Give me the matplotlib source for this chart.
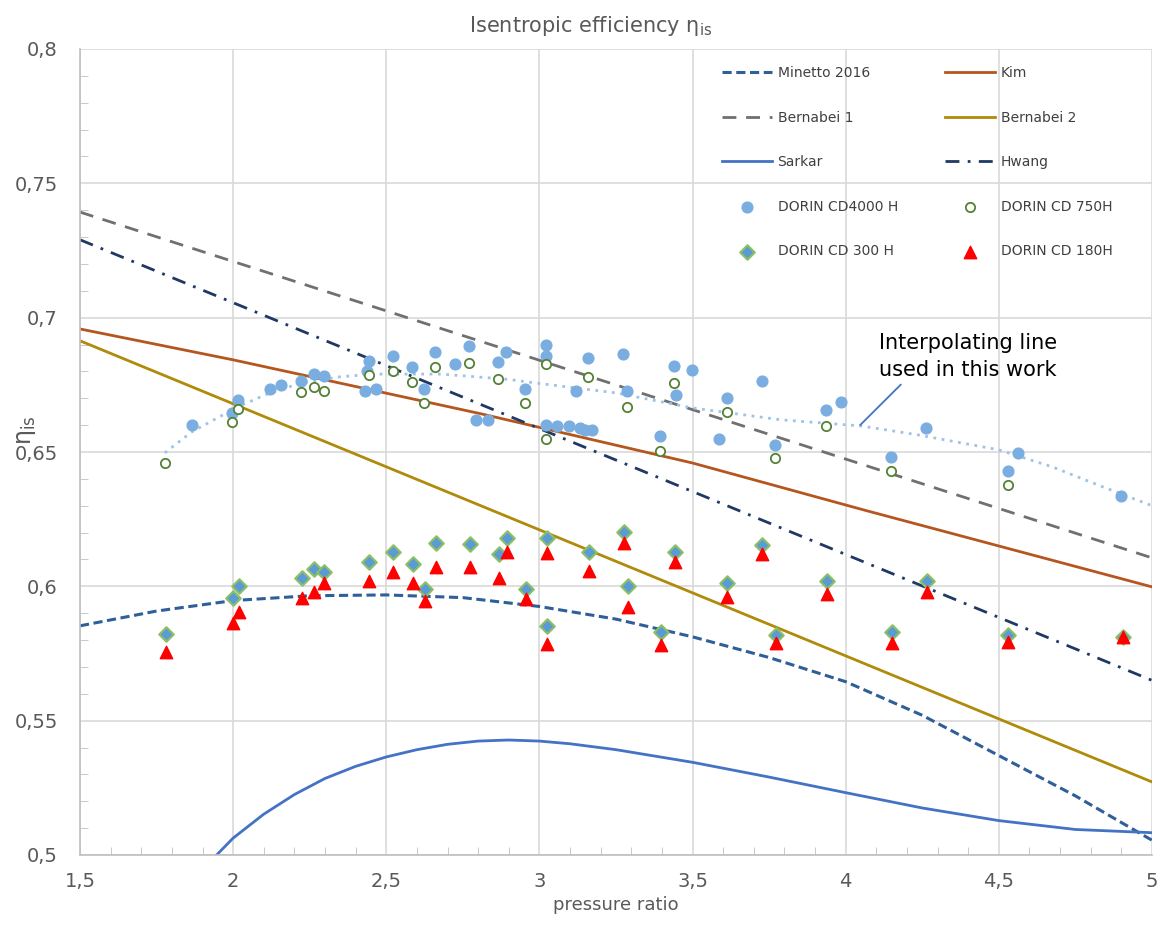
import matplotlib
matplotlib.use("Agg")
import matplotlib.pyplot as plt
from matplotlib.ticker import MultipleLocator, FuncFormatter

# correlations from literature
x_minetto = [1.5, 1.75, 2.0, 2.25, 2.5, 2.75, 3.0, 3.25, 3.5, 3.75, 4.0, 4.25, 4.5, 4.75, 5.0]
y_minetto = [0.5853, 0.5908, 0.5947, 0.5965, 0.5968, 0.5958, 0.5925, 0.5878, 0.5812, 0.5735,
             0.5645, 0.552, 0.537, 0.522, 0.5055]

x_kim = [1.5, 2.0, 2.81, 3.5, 4.06, 5.0]
y_kim = [0.6958, 0.6843, 0.6642, 0.6459, 0.6284, 0.5998]

x_bern1 = [1.5, 5.0]
y_bern1 = [0.7393, 0.6106]

x_bern2 = [1.5, 5.0]
y_bern2 = [0.6914, 0.5272]

x_sarkar = [1.946, 2.0, 2.1, 2.2, 2.3, 2.4, 2.5, 2.6, 2.7, 2.8, 2.9, 3.0, 3.1, 3.25, 3.5,
            3.75, 4.0, 4.25, 4.5, 4.75, 5.0]
y_sarkar = [0.5, 0.5063, 0.5152, 0.5225, 0.5285, 0.533, 0.5365, 0.5392, 0.5412, 0.5424,
            0.5428, 0.5424, 0.5414, 0.5392, 0.5345, 0.529, 0.5232, 0.5175, 0.5128, 0.5095,
            0.5083]

x_hwang = [1.5, 5.0]
y_hwang = [0.729, 0.565]

x_interp = [1.777, 1.865, 2.015, 2.12, 2.223, 2.35, 2.46, 2.57, 2.68, 2.79, 2.9, 3.0, 3.25,
            3.5, 3.787, 4.05, 4.24, 4.5, 4.676, 4.84, 5.0]
y_interp = [0.6497, 0.6575, 0.6668, 0.672, 0.6757, 0.678, 0.679, 0.679, 0.679, 0.678, 0.677,
            0.6755, 0.672, 0.6664, 0.662, 0.6597, 0.6563, 0.6508, 0.6444, 0.637, 0.630]

# measured compressors
x_cd4000 = [1.865, 2.015, 1.995, 2.119, 2.155, 2.223, 2.265, 2.298, 2.445, 2.438, 2.432, 2.467,
            2.523, 2.585, 2.66, 2.624, 2.725, 2.77, 2.865, 2.891, 2.793, 2.832, 2.953, 3.021,
            3.021, 3.021, 3.057, 3.096, 3.132, 3.148, 3.171, 3.119, 3.158, 3.272, 3.285, 3.393,
            3.438, 3.445, 3.497, 3.585, 3.614, 3.728, 3.77, 3.937, 3.985, 4.262, 4.148, 4.529,
            4.562, 4.90]
y_cd4000 = [0.660, 0.6694, 0.6645, 0.6735, 0.675, 0.6765, 0.679, 0.6783, 0.6839, 0.680, 0.6727,
            0.6735, 0.6857, 0.6817, 0.6872, 0.6735, 0.6828, 0.6895, 0.6835, 0.6872, 0.662, 0.662,
            0.6735, 0.690, 0.6857, 0.660, 0.6597, 0.6597, 0.659, 0.6582, 0.6582, 0.6727, 0.685,
            0.6865, 0.6727, 0.656, 0.682, 0.6712, 0.6805, 0.655, 0.670, 0.6765, 0.6526, 0.6657,
            0.6686, 0.659, 0.6482, 0.643, 0.6497, 0.6336]

x_cd750 = [1.777, 1.995, 2.015, 2.223, 2.265, 2.298, 2.445, 2.523, 2.585, 2.624, 2.66, 2.77,
           2.865, 2.953, 3.021, 3.021, 3.158, 3.285, 3.393, 3.438, 3.614, 3.77, 3.937, 4.148,
           4.529]
y_cd750 = [0.6459, 0.6612, 0.666, 0.6723, 0.6742, 0.6727, 0.6787, 0.6802, 0.676, 0.6683, 0.6817,
           0.6831, 0.6772, 0.6683, 0.6828, 0.6548, 0.678, 0.6668, 0.6504, 0.6757, 0.665, 0.6478,
           0.6597, 0.643, 0.6377]

x_cd300 = [1.78, 2.0, 2.018, 2.226, 2.265, 2.298, 2.445, 2.523, 2.588, 2.627, 2.663, 2.774,
           2.868, 2.894, 2.956, 3.024, 3.024, 3.161, 3.275, 3.288, 3.396, 3.441, 3.614, 3.728,
           3.774, 3.94, 4.265, 4.152, 4.529, 4.904]
y_cd300 = [0.5823, 0.5957, 0.6001, 0.6031, 0.6065, 0.6054, 0.6091, 0.6128, 0.6083, 0.599, 0.6162,
           0.6158, 0.612, 0.618, 0.599, 0.618, 0.5853, 0.6128, 0.6203, 0.6001, 0.583, 0.6128,
           0.6013, 0.6154, 0.5819, 0.602, 0.602, 0.583, 0.5819, 0.581]

x_cd180 = [1.78, 2.0, 2.018, 2.226, 2.265, 2.298, 2.445, 2.523, 2.588, 2.627, 2.663, 2.774,
           2.868, 2.894, 2.956, 3.024, 3.024, 3.161, 3.275, 3.288, 3.396, 3.441, 3.614, 3.728,
           3.774, 3.94, 4.265, 4.152, 4.529, 4.904]
y_cd180 = [0.5756, 0.5864, 0.5905, 0.5957, 0.598, 0.6013, 0.602, 0.6054, 0.6013, 0.5946, 0.6072,
           0.6072, 0.6031, 0.6128, 0.5953, 0.6124, 0.5786, 0.6057, 0.6162, 0.5923, 0.5782, 0.6091,
           0.596, 0.612, 0.5789, 0.5972, 0.598, 0.5789, 0.5793, 0.581]

grey = "#595959"

fig = plt.figure(figsize=(11.62, 9.27), dpi=100)
ax = fig.add_axes([80 / 1162, 1 - 855 / 927, (1152 - 80) / 1162, (855 - 49) / 927])

l_min, = ax.plot(x_minetto, y_minetto, color="#2f5f98", lw=2.2, dashes=(3, 1.5), label="Minetto 2016")
l_kim, = ax.plot(x_kim, y_kim, color="#b5561f", lw=2.0, label="Kim")
l_b1, = ax.plot(x_bern1, y_bern1, color="#707070", lw=2.0, dashes=(5, 3.5), label="Bernabei 1")
l_b2, = ax.plot(x_bern2, y_bern2, color="#b08b0a", lw=2.0, label="Bernabei 2")
l_sar, = ax.plot(x_sarkar, y_sarkar, color="#4472c4", lw=2.0, label="Sarkar")
l_hw, = ax.plot(x_hwang, y_hwang, color="#1f3864", lw=2.0, dashes=(5, 3, 1, 3), label="Hwang")
ax.plot(x_interp, y_interp, color="#9dc3e6", lw=2.0, dashes=(1, 2))

s1 = ax.scatter(x_cd4000, y_cd4000, s=60, color="#7aaee0", zorder=3, label="DORIN CD4000 H")
s2 = ax.scatter(x_cd750, y_cd750, s=45, facecolor="white", edgecolor="#548235", lw=1.3,
                zorder=3, label="DORIN CD 750H")
s3 = ax.scatter(x_cd300, y_cd300, s=55, marker="D", facecolor="#5b9bd5", edgecolor="#8cc063",
                lw=1.5, zorder=3, label="DORIN CD 300 H")
s4 = ax.scatter(x_cd180, y_cd180, s=80, marker="^", color="#ff0000", zorder=4, label="DORIN CD 180H")

ax.set_xlim(1.5, 5)
ax.set_ylim(0.5, 0.8)
ax.xaxis.set_major_locator(MultipleLocator(0.5))
ax.xaxis.set_minor_locator(MultipleLocator(0.1))
ax.yaxis.set_major_locator(MultipleLocator(0.05))
ax.yaxis.set_minor_locator(MultipleLocator(0.01))
fmt = FuncFormatter(lambda v, p: f"{v:g}".replace(".", ","))
ax.xaxis.set_major_formatter(fmt)
ax.yaxis.set_major_formatter(fmt)
ax.tick_params(which="major", length=0, labelsize=14, labelcolor=grey)
ax.tick_params(axis="y", which="major", pad=16)
ax.tick_params(axis="x", which="major", pad=12)
ax.tick_params(which="minor", direction="in", length=6, color="#bfbfbf")
ax.grid(True, which="major", color="#d9d9d9", lw=1.2)
ax.set_axisbelow(True)
for side in ["top", "right"]:
    ax.spines[side].set_visible(False)
for side in ["bottom", "left"]:
    ax.spines[side].set_color("#bfbfbf")
    ax.spines[side].set_linewidth(1.2)

ax.set_xlabel("pressure ratio", fontsize=13, color=grey, labelpad=4)
ax.set_ylabel(r"η$_{\mathrm{is}}$", fontsize=17, color=grey)
ax.yaxis.set_label_coords(-0.039, 0.527)
ax.set_title(r"Isentropic efficiency η$_{\mathrm{is}}$", fontsize=15, color=grey, pad=12,
             x=0.476)

ax.annotate("Interpolating line\nused in this work", xy=(4.047, 0.660), xytext=(4.399, 0.6855),
            ha="center", va="center", fontsize=15, color="black", linespacing=1.4,
            arrowprops=dict(arrowstyle="-", color="#4472c4", lw=1.3, shrinkB=0, shrinkA=2,
                            relpos=(0.15, 0.0)))

handles = [l_min, l_b1, l_sar, s1, s3, l_kim, l_b2, l_hw, s2, s4]
leg = ax.legend(handles=handles, ncol=2, frameon=False, fontsize=10, labelcolor="#404040",
                loc="upper left", bbox_to_anchor=(722 / 1162, 1 - 66 / 927),
                bbox_transform=fig.transFigure, borderpad=0, borderaxespad=0,
                handlelength=3.6, handletextpad=0.4, labelspacing=2.2, columnspacing=3.4,
                scatterpoints=1)

fig.savefig("out.png", dpi=100)
